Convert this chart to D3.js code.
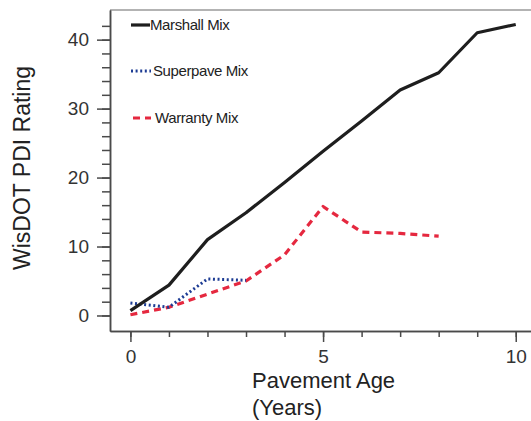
<!DOCTYPE html>
<html>
<head>
<meta charset="utf-8">
<script src="https://cdn.jsdelivr.net/npm/d3@7"></script>
<style>
  body { margin: 0; background: #fff; }
  text { font-family: "Liberation Sans", Arial, sans-serif; }
</style>
</head>
<body>
<svg width="531" height="421"></svg>
<script>
// pavement age (years)
var years = [0, 1, 2, 3, 4, 5, 6, 7, 8, 9, 10];
var marshall = [0.7, 4.4, 11.0, 14.9, 19.3, 23.8, 28.2, 32.7, 35.2, 41.0, 42.2];
var superpave = [1.8, 1.2, 5.3, 5.1];
var warranty = [0.1, 1.2, 3.1, 5.0, 8.8, 15.8, 12.1, 11.9, 11.5];

var yMajor = [0, 10, 20, 30, 40];
var yMinor = d3.range(0, 43, 2);
var xMajor = [0, 5, 10];
var xMinor = d3.range(0, 11, 1);

var seriesNames = ["Marshall Mix", "Superpave Mix", "Warranty Mix"];

var svg = d3.select("svg");

var x = d3.scaleLinear().domain([-0.53, 10.5]).range([110, 535]);
var y = d3.scaleLinear().domain([-2.25, 44.3]).range([331, 10]);

var axisColor = "#4a4a4a";

// frame top
svg.append("line")
  .attr("x1", 110).attr("x2", 531)
  .attr("y1", 10).attr("y2", 10)
  .attr("stroke", "#9a9a9a").attr("stroke-width", 1.5);

// y axis: minor then major
var gyMinor = svg.append("g").attr("transform", "translate(110,0)")
  .call(d3.axisLeft(y).tickValues(yMinor).tickSize(8).tickSizeOuter(0).tickFormat(""));
var gy = svg.append("g").attr("transform", "translate(110,0)")
  .call(d3.axisLeft(y).tickValues(yMajor).tickSize(13).tickSizeOuter(0).tickPadding(8));

var gxMinor = svg.append("g").attr("transform", "translate(0,331)")
  .call(d3.axisBottom(x).tickValues(xMinor).tickSize(6).tickSizeOuter(0).tickFormat(""));
var gx = svg.append("g").attr("transform", "translate(0,331)")
  .call(d3.axisBottom(x).tickValues(xMajor).tickSize(11).tickSizeOuter(0).tickPadding(8));

[gyMinor, gy, gxMinor, gx].forEach(function (g) {
  g.selectAll("path, line").attr("stroke", axisColor).attr("stroke-width", 1.5);
  g.selectAll("text").attr("font-size", 19).attr("fill", "#333")
    .style("font-family", "Liberation Sans, Arial, sans-serif");
});

// axis titles
svg.append("text")
  .attr("transform", "translate(30,168) rotate(-90)")
  .attr("text-anchor", "middle")
  .attr("font-size", 23)
  .attr("fill", "#222")
  .text("WisDOT PDI Rating");

svg.append("text")
  .attr("x", 252).attr("y", 388)
  .attr("font-size", 22)
  .attr("fill", "#222")
  .text("Pavement Age");

svg.append("text")
  .attr("x", 252).attr("y", 415)
  .attr("font-size", 22)
  .attr("fill", "#222")
  .text("(Years)");

// lines
var line = d3.line()
  .x(function (d, i) { return x(years[i]); })
  .y(function (d) { return y(d); });

var styles = [
  { data: marshall, color: "#1e1e1e", width: 3.2, dash: null },
  { data: superpave, color: "#1d3c94", width: 3, dash: "2,2.6" },
  { data: warranty, color: "#e5283f", width: 3.2, dash: "7,5" }
];

styles.slice().reverse().forEach(function (s) {
  svg.append("path")
    .attr("d", line(s.data))
    .attr("fill", "none")
    .attr("stroke", s.color)
    .attr("stroke-width", s.width)
    .attr("stroke-dasharray", s.dash)
    .attr("stroke-linejoin", "round");
});

// legend
var legendY = [25, 71, 118];
var legendX1 = [131, 131, 133];
var legendX2 = [150, 151, 151];
var legendTx = [150, 153, 155];
styles.forEach(function (s, i) {
  svg.append("line")
    .attr("x1", legendX1[i]).attr("x2", legendX2[i])
    .attr("y1", legendY[i]).attr("y2", legendY[i])
    .attr("stroke", s.color)
    .attr("stroke-width", s.width)
    .attr("stroke-dasharray", s.dash);
  svg.append("text")
    .attr("x", legendTx[i]).attr("y", legendY[i] + 5)
    .attr("font-size", 15)
    .attr("letter-spacing", -0.4)
    .attr("fill", "#222")
    .text(seriesNames[i]);
});
</script>
</body>
</html>
